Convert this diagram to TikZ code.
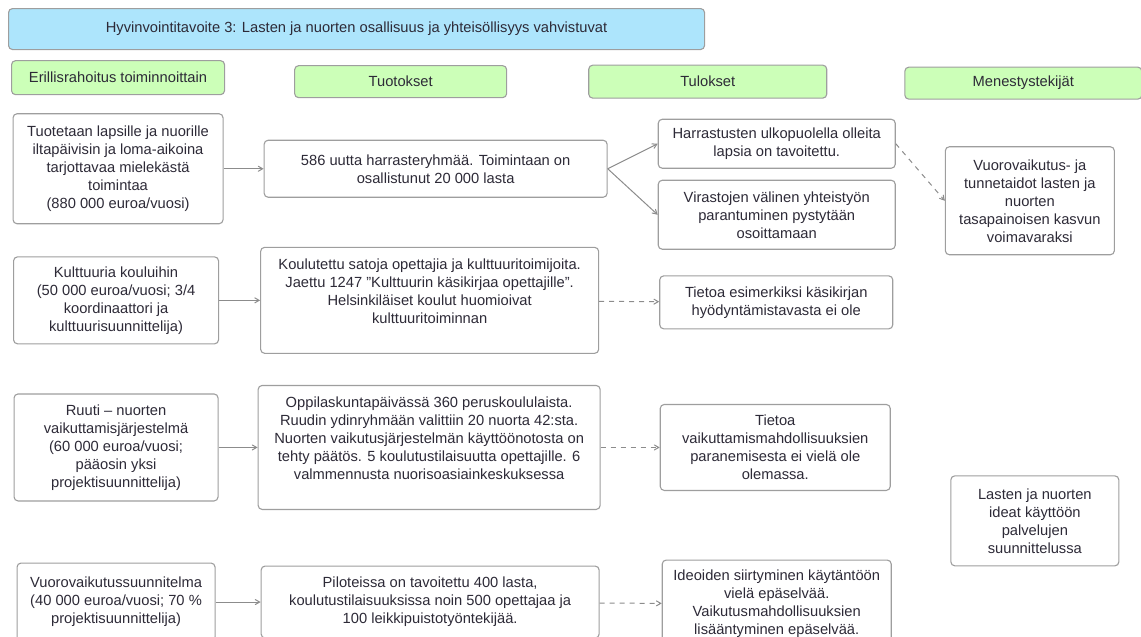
\documentclass[tikz,border=0pt]{standalone}
\usepackage{fontspec}
\setmainfont{Liberation Sans}
\usepackage{tikz}
\usetikzlibrary{arrows}
\usetikzlibrary{positioning, calc}
\definecolor{boxgray}{RGB}{158,158,158}
\definecolor{linegray}{RGB}{140,140,140}
\definecolor{textgray}{RGB}{45,42,55}
\definecolor{goalblue}{RGB}{173,229,252}
\definecolor{headgreen}{RGB}{204,255,184}
\tikzstyle{block} = [draw=boxgray,rectangle,rounded corners=4pt,line width=1.1pt,fill=white,text=textgray,align=center,inner sep=0pt,font=\fontsize{14.7}{18}\selectfont]
\tikzstyle{goalblock} = [block,fill=goalblue]
\tikzstyle{headblock} = [block,fill=headgreen]
\tikzstyle{connector} = [->,>=angle 60,line width=1pt,draw=linegray]

\begin{document}
\begin{tikzpicture}[x=1pt,y=-1pt]
	\useasboundingbox (0,0) rectangle (1141,637);
	\clip (0,0) rectangle (1141,637);

	  \node[goalblock, anchor=north west, minimum width=696pt, minimum height=41pt] (goal) at (8,8) {Hyvinvointitavoite 3: Lasten ja nuorten osallisuus ja yhteisöllisyys vahvistuvat};

	  % column heads
	  \node[headblock, below right = 10pt and 3pt of goal.south west, minimum width=213pt, minimum height=34pt] (funding) {Erillisrahoitus toiminnoittain};
	  \node[headblock, right = 69pt of funding, yshift=-4pt, minimum width=212pt, minimum height=32pt] (outputs) {Tuotokset};
	  \node[headblock, right = 81pt of outputs, minimum width=238pt, minimum height=33pt] (results) {Tulokset};
	  \node[headblock, right = 77pt of results, yshift=-1.5pt, minimum width=237pt, minimum height=32pt] (factors) {Menestystekijät};

	  % first row
	  \node[block, below = 18pt of funding, minimum width=210pt, minimum height=110pt] (act1) {
	  	Tuotetaan lapsille ja nuorille\\
	  	iltapäivisin ja loma-aikoina\\
	  	tarjottavaa mielekästä\\
	  	toimintaa\\
	  	(880 000 euroa/vuosi)
	  };

	  \node[block, right = 40pt of act1, minimum width=343pt, minimum height=57pt] (out1) {
	  	586 uutta harrasteryhmää. Toimintaan on\\
	  	osallistunut 20 000 lasta
	  };

	  \node[block, right = 50pt of out1, yshift=25pt, minimum width=237pt, minimum height=49pt] (res1a) {
	  	Harrastusten ulkopuolella olleita\\
	  	lapsia on tavoitettu.
	  };

	  \node[block, right = 50pt of out1, yshift=-46pt, minimum width=237pt, minimum height=69pt] (res1b) {
	  	Virastojen välinen yhteistyön\\
	  	parantuminen pystytään\\
	  	osoittamaan
	  };

	  \node[block, right = 49pt of res1b, yshift=14pt, minimum width=169pt, minimum height=108pt] (fac1) {
	  	Vuorovaikutus- ja\\
	  	tunnetaidot lasten ja\\
	  	nuorten\\
	  	tasapainoisen kasvun\\
	  	voimavaraksi
	  };

	  % second row
	  \node[block, below = 32pt of act1, xshift=-2pt, minimum width=205pt, minimum height=87pt] (act2) {
	  	Kulttuuria kouluihin\\
	  	(50 000 euroa/vuosi; 3/4\\
	  	koordinaattori ja\\
	  	kulttuurisuunnittelija)
	  };

	  \node[block, right = 41pt of act2, minimum width=338pt, minimum height=106pt] (out2) {
	  	Koulutettu satoja opettajia ja kulttuuritoimijoita.\\
	  	Jaettu 1247 "Kulttuurin käsikirjaa opettajille".\\
	  	Helsinkiläiset koulut huomioivat\\
	  	kulttuuritoiminnan\\
	  	\mbox{}
	  };

	  \node[block, right = 60pt of out2, yshift=-2pt, minimum width=233pt, minimum height=53pt] (res2) {
	  	Tietoa esimerkiksi käsikirjan\\
	  	hyödyntämistavasta ei ole
	  };

	  % third row
	  \node[block, below = 49pt of act2, minimum width=204pt, minimum height=107pt] (act3) {
	  	Ruuti – nuorten\\
	  	vaikuttamisjärjestelmä\\
	  	(60 000 euroa/vuosi;\\
	  	pääosin yksi\\
	  	projektisuunnittelija)
	  };

	  \node[block, right = 39pt of act3, minimum width=342pt, minimum height=124pt] (out3) {
	  	Oppilaskuntapäivässä 360 peruskoululaista.\\
	  	Ruudin ydinryhmään valittiin 20 nuorta 42:sta.\\
	  	Nuorten vaikutusjärjestelmän käyttöönotosta on\\
	  	tehty päätös. 5 koulutustilaisuutta opettajille. 6\\
	  	valmmennusta nuorisoasiainkeskuksessa\\
	  	\mbox{}
	  };

	  \node[block, right = 59pt of out3, minimum width=230pt, minimum height=86pt] (res3) {
	  	Tietoa\\
	  	vaikuttamismahdollisuuksien\\
	  	paranemisesta ei vielä ole\\
	  	olemassa.
	  };

	  % fourth row
	  \node[block, below = 61pt of act3, minimum width=198pt, minimum height=78pt] (act4) {
	  	Vuorovaikutussuunnitelma\\
	  	(40 000 euroa/vuosi; 70 \%\\
	  	projektisuunnittelija)
	  };

	  \node[block, right = 45pt of act4, minimum width=338pt, minimum height=72pt] (out4) {
	  	Piloteissa on tavoitettu 400 lasta,\\
	  	koulutustilaisuuksissa noin 500 opettajaa ja\\
	  	100 leikkipuistotyöntekijää.
	  };

	  \node[block, right = 62pt of out4, yshift=-2pt, minimum width=229pt, minimum height=88pt] (res4) {
	  	Ideoiden siirtyminen käytäntöön\\
	  	vielä epäselvää.\\
	  	Vaikutusmahdollisuuksien\\
	  	lisääntyminen epäselvää.
	  };

	  \node[block, below = 220pt of fac1, xshift=5pt, minimum width=168pt, minimum height=90pt] (fac2) {
	  	Lasten ja nuorten\\
	  	ideat käyttöön\\
	  	palvelujen\\
	  	suunnittelussa
	  };

	% now link the nodes

	\draw [connector] (act1) -- (out1);
	\draw [connector] (out1.east) -- (res1a.west);
	\draw [connector] (out1.east) -- (res1b.west);
	\draw [dash pattern=on 5pt off 5pt, connector] (res1a.east) -- (fac1.west);
	\draw [connector] (act2) -- (out2);
	\draw [dash pattern=on 5pt off 5pt, connector] (out2) -- (res2);
	\draw [connector] (act3) -- (out3);
	\draw [dash pattern=on 5pt off 5pt, connector] (out3) -- (res3);
	\draw [connector] (act4) -- (out4);
	\draw [dash pattern=on 5pt off 5pt, connector] (out4) -- (res4);

\end{tikzpicture}
\end{document}
